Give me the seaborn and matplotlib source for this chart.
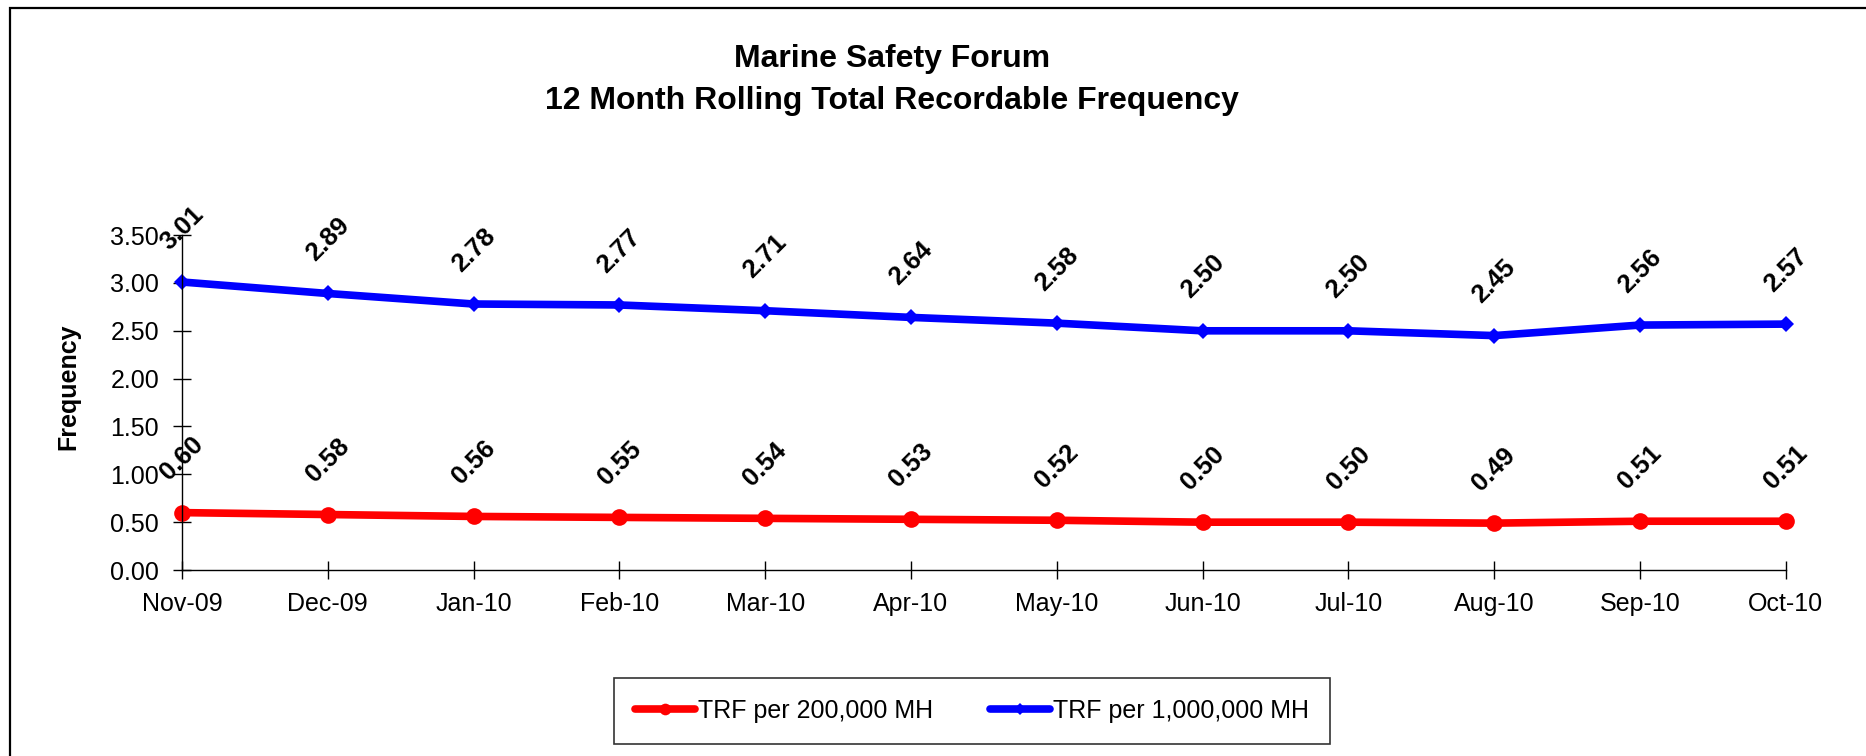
import numpy as np
import pandas as pd
import matplotlib.pyplot as plt
import seaborn as sb
from matplotlib.patches import Rectangle

# data
months = ['Nov-09', 'Dec-09', 'Jan-10', 'Feb-10', 'Mar-10', 'Apr-10',
          'May-10', 'Jun-10', 'Jul-10', 'Aug-10', 'Sep-10', 'Oct-10']
trf_200k = [0.60, 0.58, 0.56, 0.55, 0.54, 0.53, 0.52, 0.50, 0.50, 0.49, 0.51, 0.51]
trf_1m = [3.01, 2.89, 2.78, 2.77, 2.71, 2.64, 2.58, 2.50, 2.50, 2.45, 2.56, 2.57]
y_ticks = [0.0, 0.5, 1.0, 1.5, 2.0, 2.5, 3.0, 3.5]

sb.set_style("white")
plt.rcParams['font.family'] = ['Liberation Sans', 'DejaVu Sans']
plt.rcParams['text.color'] = 'black'

df = pd.DataFrame({'Month': months, 'TRF per 200,000 MH': trf_200k,
                   'TRF per 1,000,000 MH': trf_1m})

fig = plt.figure(figsize=(18.66, 7.56), dpi=100)
ax = fig.add_axes([0.0975, 0.246, 0.8595, 0.443])

sb.lineplot(data=df, x='Month', y='TRF per 200,000 MH', ax=ax, color='#ff0000',
            lw=5.5, marker='o', markersize=12, markeredgewidth=0,
            label='TRF per 200,000 MH', legend=False, clip_on=False)
sb.lineplot(data=df, x='Month', y='TRF per 1,000,000 MH', ax=ax, color='#0000ff',
            lw=5.5, marker='D', markersize=8.5, markeredgewidth=0,
            label='TRF per 1,000,000 MH', legend=False, clip_on=False)

# rotated data labels
for series in [trf_200k, trf_1m]:
    for i, v in enumerate(series):
        ax.annotate(f"{v:.2f}", (i, v), xytext=(0, 39), textcoords='offset points',
                    ha='center', va='center', rotation=45, fontsize=18.5,
                    fontweight='bold', color='black', annotation_clip=False)

ax.set_xlim(0, len(months) - 1)
ax.set_ylim(0, 3.5)
ax.set_yticks(y_ticks)
ax.set_yticklabels([f"{t:.2f}" for t in y_ticks])
ax.set_xlabel('')
ax.set_ylabel('Frequency', fontsize=18, fontweight='bold', color='black')
ax.yaxis.set_label_coords(-0.0636, 0.546)

for s in ['top', 'right']:
    ax.spines[s].set_visible(False)
for s in ['left', 'bottom']:
    ax.spines[s].set_color('black')
    ax.spines[s].set_linewidth(1)
ax.tick_params(axis='both', direction='inout', length=13, width=1,
               color='black', labelsize=18, labelcolor='black',
               bottom=True, left=True)
ax.tick_params(axis='y', pad=10)
ax.tick_params(axis='x', pad=9)

fig.text(0.478, 0.922, 'Marine Safety Forum', ha='center', va='center',
         fontsize=23, fontweight='bold')
fig.text(0.478, 0.866, '12 Month Rolling Total Recordable Frequency',
         ha='center', va='center', fontsize=23, fontweight='bold')

handles, labels = ax.get_legend_handles_labels()
leg = fig.legend(handles, labels, loc='center', bbox_to_anchor=(0.521, 0.0595),
                 ncol=2, fontsize=18, frameon=True, fancybox=False,
                 edgecolor='black', handlelength=2.4, handletextpad=0.1,
                 columnspacing=2.3, borderpad=0.85, markerscale=0.7)
leg.get_frame().set_linewidth(1.2)
for t in leg.get_texts():
    t.set_color('black')

# outer chart frame (only left and top edges fall inside the image)
fig.add_artist(Rectangle((10 / 1866, -0.1), 1.5, 1.1 - 8 / 756,
                         transform=fig.transFigure, fill=False,
                         edgecolor='black', lw=1.6, clip_on=False))

plt.savefig('out.png', dpi=100)
